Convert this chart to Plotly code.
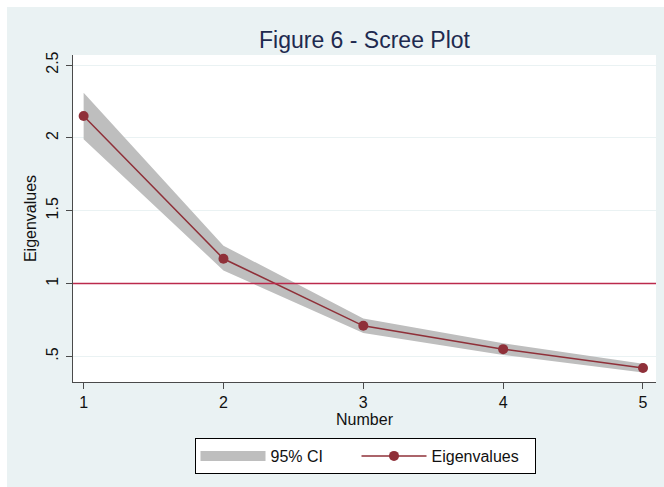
import plotly.graph_objects as go

# Component numbers and their eigenvalues with the 95% confidence limits
components = [1, 2, 3, 4, 5]
eigenvalues = [2.15, 1.17, 0.71, 0.55, 0.42]
ci_lower = [1.99, 1.09, 0.66, 0.51, 0.39]
ci_upper = [2.31, 1.26, 0.76, 0.59, 0.45]

# Kaiser criterion reference line
kaiser_cut = 1

y_tick_vals = [0.5, 1, 1.5, 2, 2.5]
y_tick_text = [".5", "1", "1.5", "2", "2.5"]
x_tick_vals = [1, 2, 3, 4, 5]
x_tick_text = ["1", "2", "3", "4", "5"]

BAND = "#bebebe"
LINE = "#8f3039"
REF = "#bb2a4c"
BG = "#eaf2f3"
AXIS = "#4a4a4a"
FONT = "Liberation Sans, Arial, sans-serif"

fig = go.Figure()

# Confidence band drawn as a closed polygon (upper limits out, lower limits back)
fig.add_trace(go.Scatter(
    x=components + components[::-1],
    y=ci_upper + ci_lower[::-1],
    fill="toself",
    fillcolor=BAND,
    line=dict(width=0),
    mode="lines",
    hoverinfo="skip",
    showlegend=False,
))

# Legend entry for the band
fig.add_trace(go.Scatter(
    x=[None], y=[None],
    mode="lines",
    line=dict(color=BAND, width=17),
    name="95% CI",
    legendwidth=81,
))

fig.add_trace(go.Scatter(
    x=components,
    y=eigenvalues,
    mode="lines+markers",
    line=dict(color=LINE, width=1.5),
    marker=dict(color=LINE, size=10),
    name="Eigenvalues",
    legendwidth=98,
))

fig.add_hline(y=kaiser_cut, line=dict(color=REF, width=1.5), layer="above")

W, H = 664, 487
ML, MR, MT, MB = 73, 8, 55, 105
pw, ph = W - ML - MR, H - MT - MB

# White outer border on the top and left edges of the graph region
fig.add_shape(type="rect", xref="paper", yref="paper",
              x0=-ML / pw, x1=(-ML + 7) / pw, y0=-MB / ph, y1=1 + MT / ph,
              fillcolor="white", line=dict(width=0), layer="below")
fig.add_shape(type="rect", xref="paper", yref="paper",
              x0=-ML / pw, x1=1 + MR / pw, y0=1 + (MT - 7) / ph, y1=1 + MT / ph,
              fillcolor="white", line=dict(width=0), layer="below")

fig.update_layout(
    width=W, height=H,
    margin=dict(l=ML, r=MR, t=MT, b=MB),
    paper_bgcolor=BG,
    plot_bgcolor="white",
    font=dict(family=FONT, size=16, color="#111111"),
    title=dict(
        text="Figure 6 - Scree Plot",
        x=0.5, xref="paper", xanchor="center",
        y=1 - 40 / H, yref="container", yanchor="middle",
        font=dict(family=FONT, size=23, color="#1e2a4f"),
    ),
    xaxis=dict(
        range=[0.924, 5.093],
        tickvals=x_tick_vals, ticktext=x_tick_text,
        showgrid=False, zeroline=False,
        showline=True, linecolor=AXIS, linewidth=1,
        ticks="outside", ticklen=6, tickcolor=AXIS, tickwidth=1,
        tickfont=dict(size=16, color="#111111"),
        title=dict(text="Number", standoff=0, font=dict(size=16, color="#111111")),
    ),
    yaxis=dict(
        range=[0.3245, 2.5686],
        tickvals=y_tick_vals, ticktext=y_tick_text,
        tickangle=-90,
        ticklabelstandoff=2,
        showgrid=True, gridcolor=BG, gridwidth=1,
        zeroline=False,
        showline=True, linecolor=AXIS, linewidth=1,
        ticks="outside", ticklen=6, tickcolor=AXIS, tickwidth=1,
        tickfont=dict(size=16, color="#111111"),
        title=dict(text="Eigenvalues", standoff=2, font=dict(size=16, color="#111111")),
    ),
    legend=dict(
        orientation="h",
        xref="container", x=365 / W, xanchor="center",
        yref="container", y=1 - 438 / H, yanchor="top",
        bgcolor="white", bordercolor="black", borderwidth=1,
        itemwidth=65,
        font=dict(size=16, color="#111111"),
        itemclick=False,
    ),
    showlegend=True,
)

fig.write_html("out.html")
